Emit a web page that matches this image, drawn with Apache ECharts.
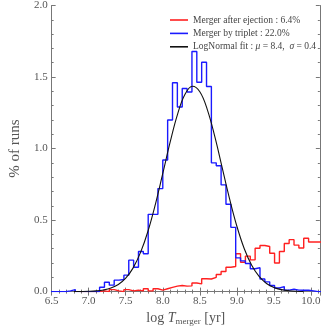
<!DOCTYPE html>
<html>
<head>
<meta charset="utf-8">
<script src="https://cdn.jsdelivr.net/npm/echarts@6/dist/echarts.min.js"></script>
<style>
html,body{margin:0;padding:0;background:#fff;}
#chart{width:323px;height:331px;}
</style>
</head>
<body>
<div id="chart"></div>
<script>
// Histogram bins (log T_merger)
const binStart = 6.4912;
const binWidth = 0.0656;

// Merger after ejection (red), % of runs per bin (null = not drawn)
const ejectionValues = [
  null, null, null, null, null, null, 0, 0, 0, 0,
  0.005, 0, 0.014, 0.005, 0, 0.014, 0.005, 0.01, 0.005, 0.02, 0.005, 0.02, 0.01,
  0.02, 0.03, 0.038, 0.043, 0.038, 0.04, 0.06, 0.054, 0.09, 0.088,
  0.1, 0.12, 0.14, 0.17, 0.175, 0.265, 0.205, 0.248, 0.222, 0.303,
  0.322, 0.315, 0.268, 0.2, 0.28, 0.336, 0.363, 0.325, 0.305, 0.373,
  0.347, 0.347, 0.347
];

// Merger by triplet (blue), % of runs per bin
const tripletValues = [
  0, 0, 0, 0.005, 0.014, 0, 0, 0, 0, 0,
  0.03, 0.065, 0.045, 0.08, 0.085, 0.115, 0.22, 0.17, 0.28, 0.265, 0.54, 0.54, 0.72,
  0.92, 1.2, 1.46, 1.29, 1.42, 1.395, 1.678, 1.463, 1.603, 1.434,
  0.90, 0.88, 0.746, 0.611, 0.449, 0.236, 0.215, 0.196, 0.16, 0.167,
  0.088, 0.068, 0.043, 0.025, 0.035, 0.01, 0.016, 0.01, 0.009, 0.009,
  0.005, 0, 0
];

// LogNormal fit curve
const fitX = [6.8, 6.9, 7.0, 7.1, 7.2, 7.3, 7.4, 7.5, 7.6, 7.7, 7.8, 7.9, 8.0, 8.1, 8.2, 8.3, 8.4,
  8.5, 8.6, 8.7, 8.8, 8.9, 9.0, 9.1, 9.2, 9.3, 9.4, 9.5, 9.6, 9.7, 9.8, 9.9];
const fitY = [0.0003, 0.0008, 0.0021, 0.0051, 0.0117, 0.025, 0.050, 0.094, 0.166, 0.274, 0.422, 0.610, 0.826, 1.046, 1.241, 1.379, 1.435,
  1.397, 1.274, 1.088, 0.870, 0.652, 0.457, 0.300, 0.184, 0.106, 0.057, 0.029, 0.0137, 0.006, 0.0025, 0.0009];

const xTicks = {min: 6.5, max: 10.12, interval: 0.5};
const yTicks = {min: 0, max: 2.0, interval: 0.5};

const names = [
  'Merger after ejection : 6.4%',
  'Merger by triplet : 22.0%',
  'LogNormal fit : μ = 8.4,  σ = 0.4'
];

function histPoints(vals) {
  const pts = [];
  for (let i = 0; i < vals.length; i++) {
    pts.push([binStart + i * binWidth, vals[i]]);
  }
  pts.push([binStart + vals.length * binWidth, vals[vals.length - 1]]);
  return pts;
}

const FONT = 'Liberation Serif';
const axisColor = '#777';
const labelColor = '#555';

function baseX(extra) {
  return Object.assign({
    type: 'value', min: xTicks.min, max: xTicks.max, interval: xTicks.interval,
    axisLine: {show: true, lineStyle: {color: axisColor, width: 1}},
    axisTick: {show: true, inside: true, length: 4, lineStyle: {color: axisColor}},
    minorTick: {show: true, splitNumber: 5, length: 2, lineStyle: {color: axisColor}},
    splitLine: {show: false}
  }, extra);
}
function baseY(extra) {
  return Object.assign({
    type: 'value', min: yTicks.min, max: yTicks.max, interval: yTicks.interval,
    axisLine: {show: true, lineStyle: {color: axisColor, width: 1}},
    axisTick: {show: true, inside: true, length: 4, lineStyle: {color: axisColor}},
    minorTick: {show: true, splitNumber: 5, length: 2, lineStyle: {color: axisColor}},
    splitLine: {show: false}
  }, extra);
}

const chart = echarts.init(document.getElementById('chart'), null, {renderer: 'canvas'});
chart.setOption({
  animation: false,
  backgroundColor: '#fff',
  grid: {left: 34, right: 1, top: 4, bottom: 31, containLabel: false},
  xAxis: [
    baseX({
      position: 'bottom',
      axisLabel: {
        color: labelColor, fontFamily: FONT, fontSize: 11, margin: 4,
        formatter: function (v) {
          return Math.abs(v * 2 - Math.round(v * 2)) < 1e-6 ? v.toFixed(1) : '';
        }
      },
      name: '{n|log }{i|T}{s|merger}{n| [yr]}',
      nameLocation: 'middle',
      nameGap: 15,
      nameTextStyle: {
        color: labelColor, fontFamily: FONT, fontSize: 14,
        rich: {
          n: {fontFamily: FONT, fontSize: 14, color: labelColor},
          i: {fontFamily: FONT, fontSize: 14, fontStyle: 'italic', color: labelColor},
          s: {fontFamily: FONT, fontSize: 9, color: labelColor, padding: [6, 0, 0, 0]}
        }
      }
    }),
    baseX({position: 'top', axisLabel: {show: false}})
  ],
  yAxis: [
    baseY({
      position: 'left',
      axisLabel: {
        color: labelColor, fontFamily: FONT, fontSize: 11, margin: 4,
        formatter: function (v) { return v.toFixed(1); }
      },
      name: '% of runs',
      nameLocation: 'middle',
      nameGap: 21,
      nameTextStyle: {color: labelColor, fontFamily: FONT, fontSize: 15}
    }),
    baseY({position: 'right', axisLabel: {show: false}})
  ],
  legend: {
    orient: 'vertical',
    left: 165, top: 10,
    itemWidth: 18, itemHeight: 1.6, itemGap: 3.4,
    icon: 'rect',
    data: names,
    selectedMode: false,
    formatter: function (n) {
      if (n === names[2]) return 'LogNormal fit : {i|μ} = 8.4,  {i|σ} = 0.4';
      return n;
    },
    textStyle: {
      fontFamily: FONT, fontSize: 9.5, color: '#444', lineHeight: 10,
      rich: {i: {fontFamily: FONT, fontSize: 9.5, fontStyle: 'italic', color: '#444'}}
    }
  },
  series: [
    {
      name: names[0], type: 'line', step: 'end',
      data: histPoints(ejectionValues),
      showSymbol: false, symbol: 'none',
      color: '#ff2020',
      lineStyle: {color: '#ff2020', width: 1.4},
      clip: true
    },
    {
      name: names[1], type: 'line', step: 'end',
      data: histPoints(tripletValues),
      showSymbol: false, symbol: 'none',
      color: '#1a1aff',
      lineStyle: {color: '#1a1aff', width: 1.4},
      clip: true
    },
    {
      name: names[2], type: 'line', smooth: 0.4,
      data: fitX.map(function (x, i) { return [x, fitY[i]]; }),
      showSymbol: false, symbol: 'none',
      color: '#111',
      lineStyle: {color: '#111', width: 1.1},
      clip: true
    }
  ]
});
</script>
</body>
</html>
